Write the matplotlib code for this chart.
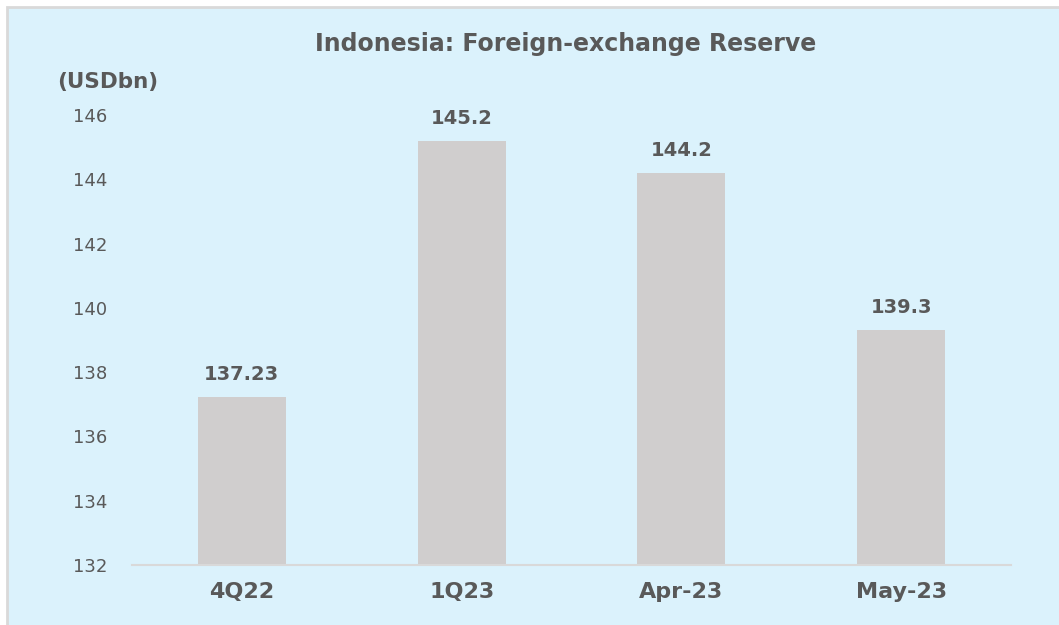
import matplotlib.pyplot as plt
from matplotlib.patches import Rectangle

categories = ["4Q22", "1Q23", "Apr-23", "May-23"]
values = [137.23, 145.2, 144.2, 139.3]
labels = ["137.23", "145.2", "144.2", "139.3"]
yticks = [132, 134, 136, 138, 140, 142, 144, 146]

text_color = "#595959"
bg = "#DBF2FC"

plt.rcParams["font.family"] = ["DejaVu Sans"]

fig = plt.figure(figsize=(10.59, 6.25), dpi=100)
fig.patch.set_facecolor("white")

# light blue panel with grey border
panel = Rectangle((7 / 1059, -0.01), 1.02, 1 - 7 / 625 + 0.01,
                  transform=fig.transFigure, facecolor=bg,
                  edgecolor="#D9D9D9", linewidth=2, zorder=-10)
fig.patches.append(panel)

ax = fig.add_axes([132 / 1059, 1 - 565 / 625, 879 / 1059, 450 / 625])
ax.set_facecolor("none")
ax.set_zorder(1)

x = range(len(categories))
ax.bar(x, [v - 132 for v in values], bottom=132, width=0.4, color="#D0CECE", zorder=2)

for xi, v, lab in zip(x, values, labels):
    ax.text(xi, v + 0.4, lab, ha="center", va="bottom", fontsize=14,
            fontweight="bold", color=text_color)

ax.set_xlim(-0.5, len(categories) - 0.5)
ax.set_ylim(132, 146)
ax.set_yticks(yticks)
ax.set_yticklabels([str(t) for t in yticks], fontsize=13, color=text_color)
ax.set_xticks(list(x))
ax.set_xticklabels(categories, fontsize=16, fontweight="bold", color=text_color)

for s in ["top", "right", "left"]:
    ax.spines[s].set_visible(False)
ax.spines["bottom"].set_color("#D9D9D9")
ax.spines["bottom"].set_linewidth(1.5)
ax.tick_params(axis="both", length=0)
ax.tick_params(axis="y", pad=18)
ax.tick_params(axis="x", pad=12)

fig.text(566 / 1059, 1 - 44 / 625, "Indonesia: Foreign-exchange Reserve",
         ha="center", va="center", fontsize=17, fontweight="bold", color=text_color)
fig.text(57 / 1059, 1 - 82 / 625, "(USDbn)", ha="left", va="center",
         fontsize=15.5, fontweight="bold", color=text_color)

fig.savefig("out.png", dpi=100, facecolor=fig.get_facecolor())
